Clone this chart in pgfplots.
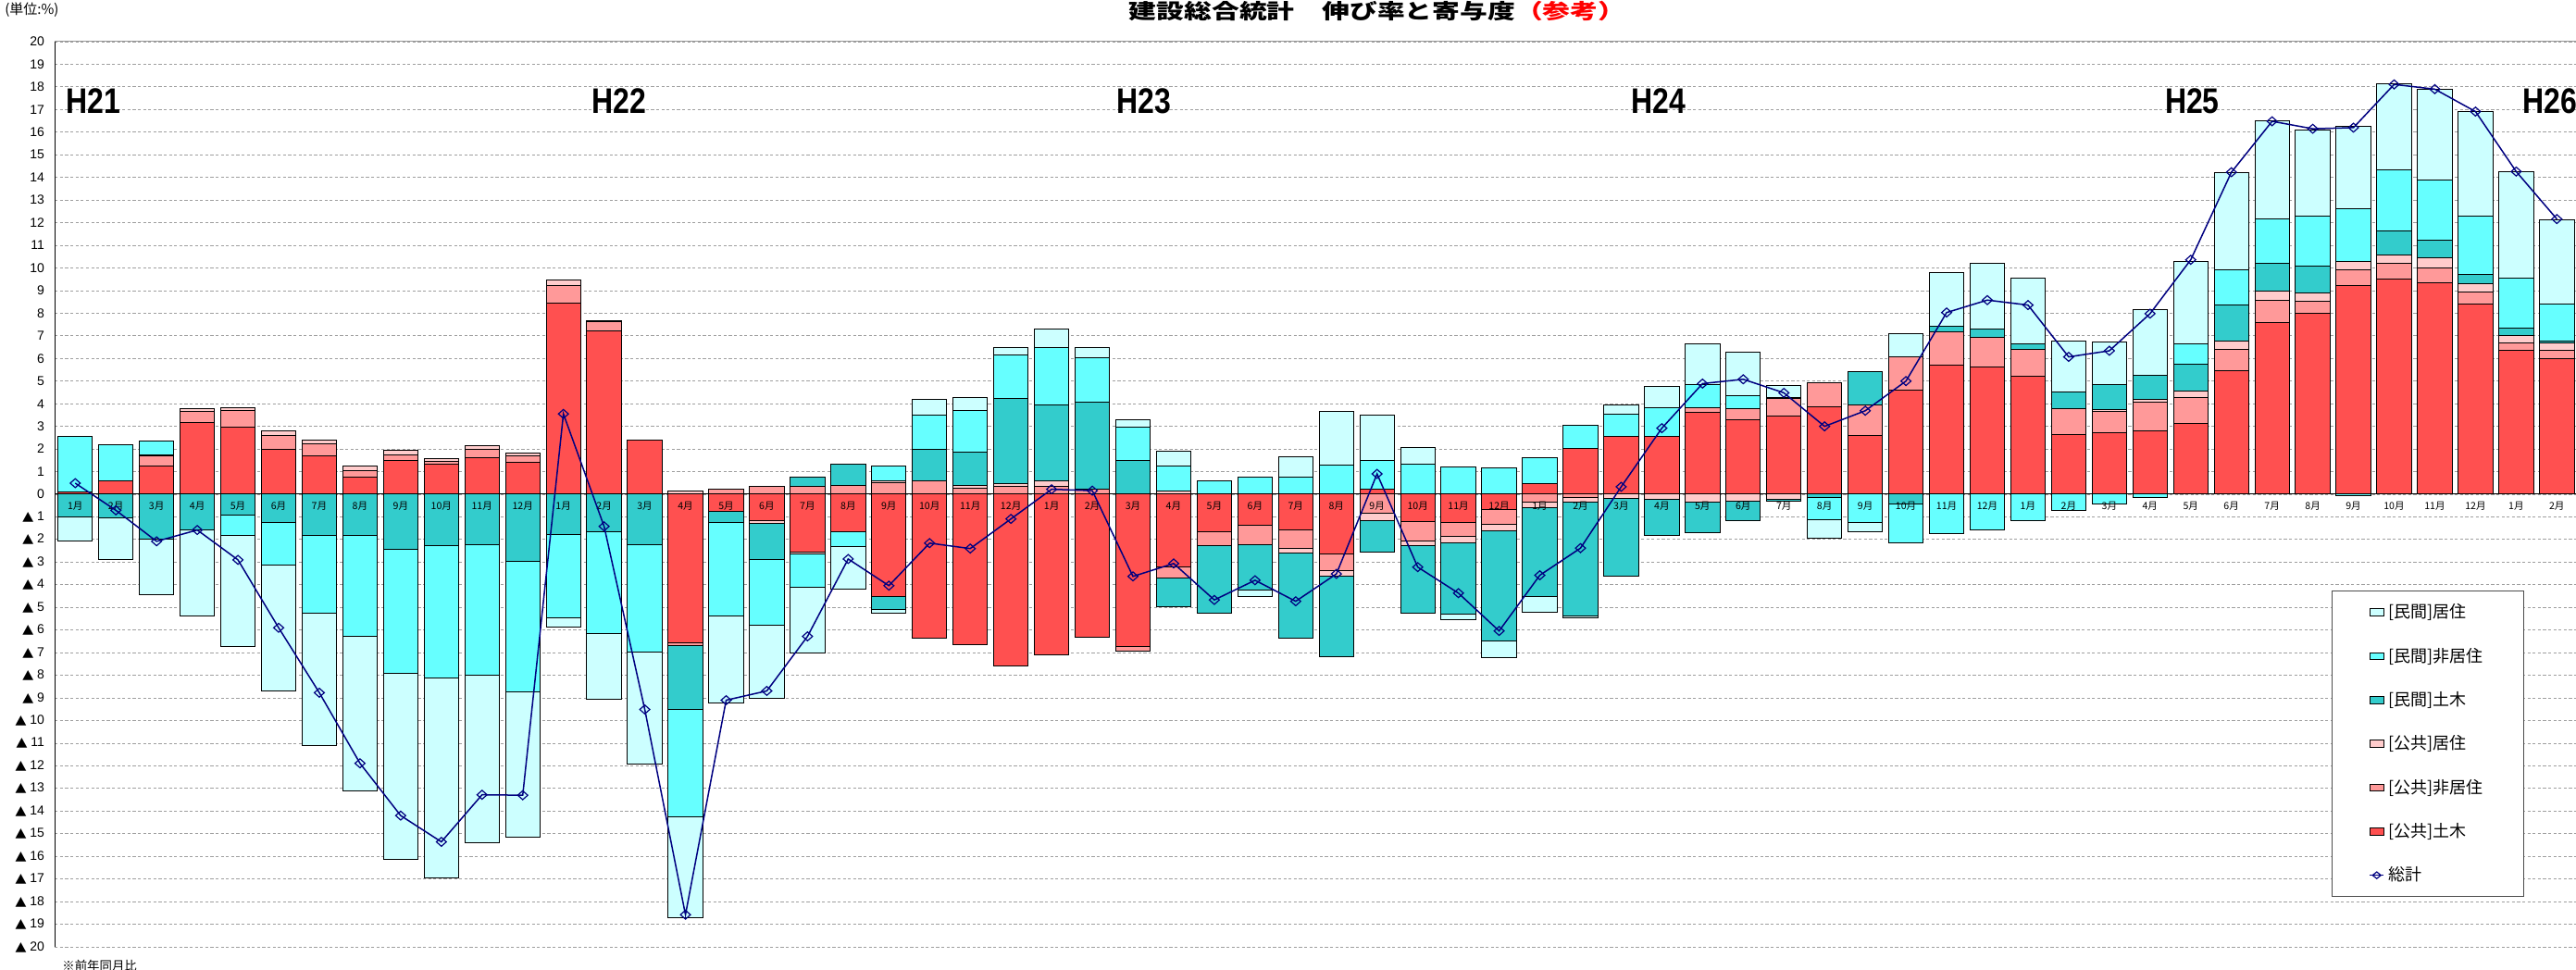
\documentclass[border=0pt]{standalone}
\usepackage{pgfplots}
\pgfplotsset{compat=1.18}
\usepackage{pgfplotstable}
\usepackage{fontspec}
\setmainfont{Liberation Sans}
\newfontfamily\jp{Noto Sans CJK JP}
\newfontfamily\dv{DejaVu Sans}
\newcommand\tri{{\dv\scalebox{1.1}[1]{▲}}}
\definecolor{cL}{HTML}{CCFFFF}
\definecolor{cC}{HTML}{66FFFF}
\definecolor{cT}{HTML}{33CCCC}
\definecolor{cP}{HTML}{FFCCCC}
\definecolor{cS}{HTML}{FF9999}
\definecolor{cR}{HTML}{FF5050}
\definecolor{navyl}{HTML}{000080}

% positive contributions (stacked upward)
\pgfplotstableread{
x R S P T C L
0 0.10 0 0 0 2.47 0
1 0.60 0 0 0 1.59 0
2 1.26 0.44 0.05 0 0.60 0
3 3.17 0.50 0.13 0 0 0
4 2.95 0.74 0.14 0 0 0
5 1.97 0.63 0.19 0 0 0
6 1.69 0.52 0.17 0 0 0
7 0.77 0.27 0.19 0 0 0
8 1.50 0.25 0.19 0 0 0
9 1.31 0.16 0.11 0 0 0
10 1.61 0.36 0.16 0 0 0
11 1.42 0.27 0.11 0 0 0
12 8.44 0.79 0.22 0 0 0
13 7.21 0.41 0.06 0 0 0
14 2.40 0 0 0 0 0
15 0 0 0.14 0 0 0
16 0 0.22 0 0 0 0
17 0 0.33 0 0 0 0
18 0 0.33 0 0.41 0 0
19 0 0.38 0 0.93 0 0
20 0 0.50 0.08 0 0.66 0
21 0 0.60 0 1.39 1.50 0.71
22 0 0.27 0.11 1.48 1.86 0.55
23 0 0.33 0.16 3.74 1.94 0.30
24 0 0.35 0.25 3.36 2.54 0.79
25 0 0.22 0 3.83 1.99 0.44
26 0 0 0 1.50 1.45 0.36
27 0 0 0.14 0 1.12 0.63
28 0 0 0 0 0.60 0
29 0 0 0 0 0.77 0
30 0 0 0 0 0.74 0.93
31 0 0 0 0 1.28 2.40
32 0.22 0 0 0 1.26 2.02
33 0 0 0 0 1.34 0.71
34 0 0 0 0 1.20 0
35 0 0 0 0 1.15 0
36 0.46 0 0 0 1.17 0
37 2.02 0 0 0 1.04 0
38 2.54 0 0 0 1.01 0.38
39 2.54 0 0 0 1.28 0.93
40 3.60 0.22 0 0 1.01 1.83
41 3.28 0.52 0 0 0.57 1.89
42 3.44 0.79 0 0 0.05 0.52
43 3.85 1.09 0 0 0 0
44 2.60 1.34 0 1.48 0 0
45 4.59 1.48 0 0 0 1.01
46 5.71 1.45 0 0.27 0 2.35
47 5.63 1.31 0 0.38 0 2.87
48 5.22 1.17 0 0.25 0 2.90
49 2.62 1.17 0 0.74 0 2.24
50 2.70 0.98 0.08 1.09 0 1.89
51 2.81 1.26 0.11 1.09 0 2.90
52 3.11 1.15 0.30 1.17 0.93 3.63
53 5.46 0.96 0.33 1.61 1.56 4.29
54 7.60 0.96 0.41 1.23 1.97 4.32
55 8.00 0.52 0.38 1.17 2.21 3.83
56 9.23 0.68 0.36 0 2.35 3.63
57 9.51 0.71 0.36 1.07 2.68 3.80
58 9.34 0.68 0.41 0.79 2.65 4.02
59 8.39 0.55 0.36 0.41 2.57 4.62
60 6.34 0.33 0.33 0.36 2.21 4.70
61 6.01 0.33 0.33 0.08 1.67 3.72
}\postab

% negative contributions (stacked downward)
\pgfplotstableread{
x R S P T C L
0 0 0 0 -1.00 0 -1.08
1 0 0 0 -1.04 0 -1.86
2 0 0 0 -1.97 0 -2.46
3 0 0 0 -1.58 0 -3.78
4 0 0 0 -0.93 -0.90 -4.89
5 0 0 0 -1.23 -1.89 -5.57
6 0 0 0 -1.80 -3.47 -5.85
7 0 0 0 -1.80 -4.48 -6.83
8 0 0 0 -2.43 -5.49 -8.20
9 0 0 0 -2.27 -5.85 -8.82
10 0 0 0 -2.21 -5.77 -7.40
11 0 0 0 -2.95 -5.77 -6.42
12 0 0 0 -1.78 -3.69 -0.41
13 0 0 0 -1.64 -4.51 -2.92
14 0 0 0 -2.24 -4.75 -4.92
15 -6.56 -0.14 0 -2.81 -4.73 -4.48
16 -0.77 0 0 -0.46 -4.13 -3.88
17 -1.17 0 -0.10 -1.61 -2.92 -3.20
18 -2.54 0 -0.08 0 -1.50 -2.90
19 -1.64 0 0 0 -0.66 -1.89
20 -4.51 0 0 -0.57 0 -0.19
21 -6.34 0 0 0 0 0
22 -6.64 0 0 0 0 0
23 -7.60 0 0 0 0 0
24 -7.10 0 0 0 0 0
25 -6.31 0 0 0 0 0
26 -6.72 -0.22 0 0 0 0
27 -3.20 -0.52 0 -1.23 0 0
28 -1.64 -0.63 0 -3.00 0 0
29 -1.39 -0.82 0 -2.02 0 -0.30
30 -1.56 -0.82 -0.22 -3.77 0 0
31 -2.65 -0.74 -0.25 -3.55 0 0
32 0 -0.85 -0.30 -1.42 0 0
33 -1.20 -0.87 -0.22 -2.98 0 0
34 -1.23 -0.63 -0.27 -3.17 0 -0.25
35 -0.68 -0.66 -0.27 -4.86 0 -0.74
36 0 -0.33 -0.25 -3.96 0 -0.68
37 0 -0.14 -0.22 -5.00 0 -0.08
38 0 0 -0.19 -3.42 0 0
39 0 0 -0.22 -1.61 0 0
40 0 0 -0.33 -1.37 0 0
41 0 0 -0.30 -0.85 0 0
42 0 0 -0.22 -0.10 0 0
43 0 0 0 -0.16 -0.96 -0.82
44 0 0 0 0 -1.26 -0.41
45 0 0 0 -0.41 -1.72 0
46 0 0 0 0 -1.72 0
47 0 0 0 0 -1.56 0
48 0 0 0 0 -1.17 0
49 0 0 0 0 -0.71 0
50 0 0 0 0 -0.41 0
51 0 0 0 0 -0.16 0
52 0 0 0 0 0 0
53 0 0 0 0 0 0
54 0 0 0 0 0 0
55 0 0 0 0 0 0
56 0 0 0 0 -0.05 0
57 0 0 0 0 0 0
58 0 0 0 0 0 0
59 0 0 0 0 0 0
60 0 0 0 0 0 0
61 0 0 0 0 0 0
}\negtab

% total
\pgfplotstableread{
x y
0 0.49
1 -0.71
2 -2.08
3 -1.58
4 -2.90
5 -5.90
6 -8.77
7 -11.89
8 -14.20
9 -15.36
10 -13.28
11 -13.30
12 3.55
13 -1.42
14 -9.51
15 -18.58
16 -9.10
17 -8.69
18 -6.28
19 -2.86
20 -4.04
21 -2.16
22 -2.40
23 -1.09
24 0.22
25 0.16
26 -3.63
27 -3.06
28 -4.67
29 -3.80
30 -4.73
31 -3.52
32 0.90
33 -3.22
34 -4.37
35 -6.04
36 -3.58
37 -2.38
38 0.33
39 2.92
40 4.89
41 5.08
42 4.48
43 3.00
44 3.69
45 5.00
46 8.03
47 8.58
48 8.36
49 6.07
50 6.34
51 7.98
52 10.36
53 14.23
54 16.48
55 16.15
56 16.20
57 18.11
58 17.90
59 16.91
60 14.26
61 12.16
}\tottab

\pgfplotsset{
  base/.style={scale only axis, width=1362.5pt, height=489pt,
    xmin=-0.5, xmax=61.5, ymin=-20, ymax=20,
    at={(0pt,0pt)}, anchor=south west,
    axis line style={draw=none}, major tick length=0pt},
  bx/.style={fill=#1, draw=black, line width=0.5pt},
}

\begin{document}
\begin{tikzpicture}
% ---------- axis 1: grid, y ticks, positive parts ----------
\begin{axis}[base, ybar stacked, bar width=18.67pt,
  xtick=\empty,
  ytick={-20,-19,...,20},
  yticklabels={\tri\ 20,\tri\ 19,\tri\ 18,\tri\ 17,\tri\ 16,\tri\ 15,\tri\ 14,\tri\ 13,\tri\ 12,\tri\ 11,\tri\ 10,\tri\ 9,\tri\ 8,\tri\ 7,\tri\ 6,\tri\ 5,\tri\ 4,\tri\ 3,\tri\ 2,\tri\ 1,0,1,2,3,4,5,6,7,8,9,10,11,12,13,14,15,16,17,18,19,20},
  yticklabel style={font=\fontsize{7}{7.5}\selectfont, inner sep=0pt, anchor=east, xshift=-5.5pt},
  ymajorgrids, grid style={dash pattern=on 1.6pt off 1.2pt, gray!75, line width=0.4pt}]
\draw[black, line width=0.5pt] (axis cs:-0.5,0) -- (axis cs:61.5,0);
\addplot[bx=cR] table[x=x,y=R]{\postab};
\addplot[bx=cS] table[x=x,y=S]{\postab};
\addplot[bx=cP] table[x=x,y=P]{\postab};
\addplot[bx=cT] table[x=x,y=T]{\postab};
\addplot[bx=cC] table[x=x,y=C]{\postab};
\addplot[bx=cL] table[x=x,y=L]{\postab};
\end{axis}
% ---------- axis 2: negative parts ----------
\begin{axis}[base, ybar stacked, bar width=18.67pt, xtick=\empty, ytick=\empty]
\addplot[bx=cR] table[x=x,y=R]{\negtab};
\addplot[bx=cS] table[x=x,y=S]{\negtab};
\addplot[bx=cP] table[x=x,y=P]{\negtab};
\addplot[bx=cT] table[x=x,y=T]{\negtab};
\addplot[bx=cC] table[x=x,y=C]{\negtab};
\addplot[bx=cL] table[x=x,y=L]{\negtab};
\end{axis}
% ---------- axis 3: total line, labels, legend ----------
\begin{axis}[base, clip=false, ytick=\empty,
  xtick={0,...,61},
  xticklabels={1月,2月,3月,4月,5月,6月,7月,8月,9月,10月,11月,12月,1月,2月,3月,4月,5月,6月,7月,8月,9月,10月,11月,12月,1月,2月,3月,4月,5月,6月,7月,8月,9月,10月,11月,12月,1月,2月,3月,4月,5月,6月,7月,8月,9月,10月,11月,12月,1月,2月,3月,4月,5月,6月,7月,8月,9月,10月,11月,12月,1月,2月},
  xticklabel style={font=\jp\fontsize{5.3}{5.5}\selectfont, inner sep=0.5pt, anchor=north, yshift=241pt},
  legend style={at={(axis description cs:0.9026,0.3937)}, anchor=north west,
    draw=gray!60!black, line width=0.6pt, fill=white,
    font=\jp\fontsize{9}{10}\selectfont, row sep=10.6pt, inner xsep=20pt, inner ysep=5pt},
  legend cell align=left]
\draw[black, line width=0.7pt] (rel axis cs:0,0) -- (rel axis cs:0,1);
\draw[gray!80, line width=0.5pt] (rel axis cs:0,1) -- (rel axis cs:1,1);
\addlegendimage{legend image code/.code={\draw[fill=cL, draw=black, line width=0.4pt] (0pt,-1.9pt) rectangle (7.5pt,1.9pt);}}
\addlegendentry{{[民間]居住}}
\addlegendimage{legend image code/.code={\draw[fill=cC, draw=black, line width=0.4pt] (0pt,-1.9pt) rectangle (7.5pt,1.9pt);}}
\addlegendentry{{[民間]非居住}}
\addlegendimage{legend image code/.code={\draw[fill=cT, draw=black, line width=0.4pt] (0pt,-1.9pt) rectangle (7.5pt,1.9pt);}}
\addlegendentry{{[民間]土木}}
\addlegendimage{legend image code/.code={\draw[fill=cP, draw=black, line width=0.4pt] (0pt,-1.9pt) rectangle (7.5pt,1.9pt);}}
\addlegendentry{{[公共]居住}}
\addlegendimage{legend image code/.code={\draw[fill=cS, draw=black, line width=0.4pt] (0pt,-1.9pt) rectangle (7.5pt,1.9pt);}}
\addlegendentry{{[公共]非居住}}
\addlegendimage{legend image code/.code={\draw[fill=cR, draw=black, line width=0.4pt] (0pt,-1.9pt) rectangle (7.5pt,1.9pt);}}
\addlegendentry{{[公共]土木}}
\addplot[navyl, line width=0.75pt, mark=diamond, mark size=2.4pt,
  mark options={solid, xscale=1.5, line width=0.6pt, fill=none},
  legend image code/.code={\draw[navyl, line width=0.75pt] (0pt,0pt) -- (7.5pt,0pt);
    \draw[navyl, line width=0.6pt] (3.75pt,1.8pt) -- (6pt,0pt) -- (3.75pt,-1.8pt) -- (1.5pt,0pt) -- cycle;}]
  table[x=x,y=y]{\tottab};
\addlegendentry{{総計}}
\begin{scope}[every node/.style={anchor=west, inner sep=0pt, font=\bfseries\fontsize{16}{16}\selectfont}]
\node at (axis cs:-0.23,17.36) {\scalebox{1}[1.2]{H21}};
\node at (axis cs:12.69,17.36) {\scalebox{1}[1.2]{H22}};
\node at (axis cs:25.60,17.36) {\scalebox{1}[1.2]{H23}};
\node at (axis cs:38.25,17.36) {\scalebox{1}[1.2]{H24}};
\node at (axis cs:51.36,17.36) {\scalebox{1}[1.2]{H25}};
\node at (axis cs:60.16,17.36) {\scalebox{1}[1.2]{H26}};
\end{scope}
\end{axis}
% ---------- texts outside ----------
\node[inner sep=0pt] at (714.4pt,505.25pt) {\scalebox{1}[0.75]{\jp\bfseries\fontsize{14.9}{15}\selectfont 建設総合統計　伸び率と寄与度\textcolor{red}{（参考）}}};
\node[anchor=west, inner sep=0pt] at (-27.15pt,506pt) {\jp\fontsize{7.5}{8}\selectfont (単位:\%)};
\node[anchor=west, inner sep=0pt] at (3.85pt,-10pt) {\jp\fontsize{6.7}{7}\selectfont ※前年同月比};
\pgfresetboundingbox
\path[use as bounding box] (-29.65pt,-12.5pt) rectangle (1361.85pt,511.5pt);
\end{tikzpicture}
\end{document}
